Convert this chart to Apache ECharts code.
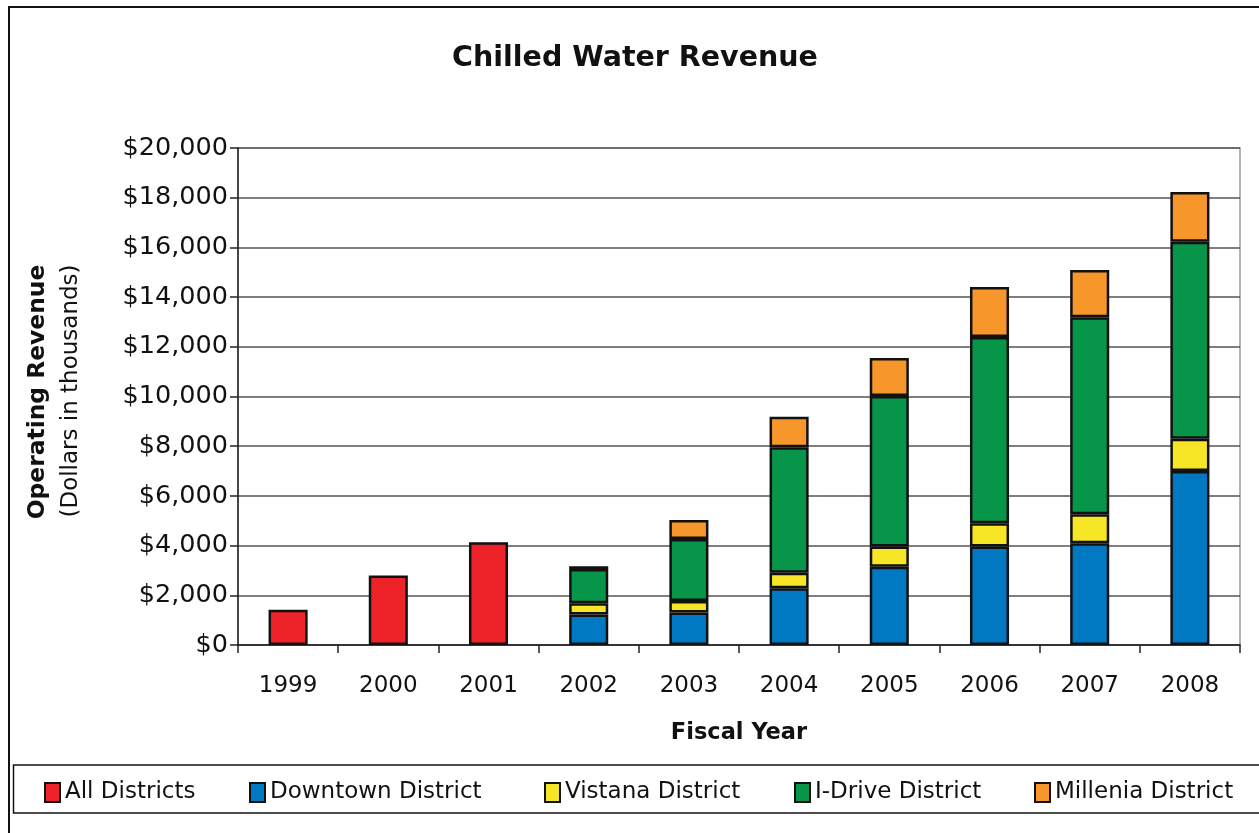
<!DOCTYPE html>
<html>
<head>
<meta charset="utf-8">
<title>Chilled Water Revenue</title>
<script src="https://cdn.jsdelivr.net/npm/echarts@6/dist/echarts.min.js"></script>
<style>
  html, body { margin: 0; padding: 0; background: #fff; }
  #chart { width: 1259px; height: 833px; }
</style>
</head>
<body>
<div id="chart"></div>
<script>
// Fiscal years and revenue by district (dollars in thousands)
const years = ['1999', '2000', '2001', '2002', '2003', '2004', '2005', '2006', '2007', '2008'];
const allDistricts = [1420, 2800, 4130, '-', '-', '-', '-', '-', '-', '-'];
const downtown = ['-', '-', '-', 1230, 1310, 2280, 3150, 3960, 4090, 7000];
const vistana  = ['-', '-', '-', 450, 460, 630, 810, 940, 1170, 1300];
const iDrive   = ['-', '-', '-', 1380, 2500, 5050, 6060, 7490, 7930, 7930];
const millenia = ['-', '-', '-', 110, 760, 1230, 1530, 2020, 1900, 2000];
const yTicks = [0, 2000, 4000, 6000, 8000, 10000, 12000, 14000, 16000, 18000, 20000];

const FONT = '"DejaVu Sans", "Noto Sans", sans-serif';

const seriesDefs = [
  { name: 'All Districts', data: allDistricts, color: '#EE2229' },
  { name: 'Downtown District', data: downtown, color: '#0079C2' },
  { name: 'Vistana District', data: vistana, color: '#F6E626' },
  { name: 'I-Drive District', data: iDrive, color: '#07954A' },
  { name: 'Millenia District', data: millenia, color: '#F7962B' }
];
const legendLeft = [39, 244, 539, 789, 1029];

const chart = echarts.init(document.getElementById('chart'), null, { renderer: 'canvas' });

chart.setOption({
  backgroundColor: '#ffffff',
  animation: false,
  title: {
    text: 'Chilled Water Revenue',
    left: 630,
    top: 39,
    textAlign: 'center',
    textStyle: { fontFamily: FONT, fontSize: 28.5, fontWeight: 'bold', color: '#111' }
  },
  legend: seriesDefs.map((s, i) => ({
    data: [s.name],
    left: legendLeft[i],
    top: 776,
    itemWidth: 15,
    itemHeight: 19,
    itemGap: 0,
    icon: 'rect',
    selectedMode: false,
    textStyle: { fontFamily: FONT, fontSize: 23, color: '#111' }
  })),
  grid: {
    left: 238, right: 19, top: 148, bottom: 188,
    show: true, borderColor: '#999', borderWidth: 1.5
  },
  xAxis: {
    type: 'category',
    data: years,
    boundaryGap: true,
    name: 'Fiscal Year',
    nameLocation: 'middle',
    nameGap: 77,
    nameTextStyle: { fontFamily: FONT, fontSize: 22.5, fontWeight: 'bold', color: '#111' },
    axisLine: { lineStyle: { color: '#222', width: 1.5 } },
    axisTick: { show: true, length: 8, alignWithLabel: false, lineStyle: { color: '#222', width: 1.5 } },
    axisLabel: { fontFamily: FONT, fontSize: 23, color: '#111', margin: 30 },
    splitLine: { show: false }
  },
  yAxis: {
    type: 'value',
    min: yTicks[0],
    max: yTicks[yTicks.length - 1],
    interval: 2000,
    axisLine: { show: true, lineStyle: { color: '#222', width: 1.5 } },
    axisTick: { show: true, length: 8, lineStyle: { color: '#222', width: 1.5 } },
    axisLabel: {
      fontFamily: FONT, fontSize: 25.5, color: '#111', margin: 10,
      formatter: v => '$' + v.toLocaleString('en-US')
    },
    splitLine: { show: true, lineStyle: { color: '#555', width: 1.5 } }
  },
  series: seriesDefs.map(s => ({
    name: s.name,
    type: 'bar',
    stack: 'revenue',
    data: s.data,
    barWidth: '39%',
    itemStyle: { color: s.color, borderColor: '#111', borderWidth: 2.5 }
  })),
  graphic: [
    // outer chart frame
    { type: 'rect', shape: { x: 9, y: 7, width: 1270, height: 840 },
      style: { fill: 'none', stroke: '#111', lineWidth: 2 }, z: -1 },
    // legend frame
    { type: 'rect', shape: { x: 13.5, y: 765, width: 1260, height: 48 },
      style: { fill: 'none', stroke: '#111', lineWidth: 1.5 }, z: -1 },
    // y-axis title lines
    { type: 'text', x: 38, y: 392, rotation: Math.PI / 2,
      style: { text: 'Operating Revenue', fontFamily: FONT, fontSize: 23.4, fontWeight: 'bold',
               fill: '#111', textAlign: 'center', textVerticalAlign: 'middle' } },
    { type: 'text', x: 71, y: 391, rotation: Math.PI / 2,
      style: { text: '(Dollars in thousands)', fontFamily: FONT, fontSize: 23,
               fill: '#111', textAlign: 'center', textVerticalAlign: 'middle' } }
  ]
});
</script>
</body>
</html>
